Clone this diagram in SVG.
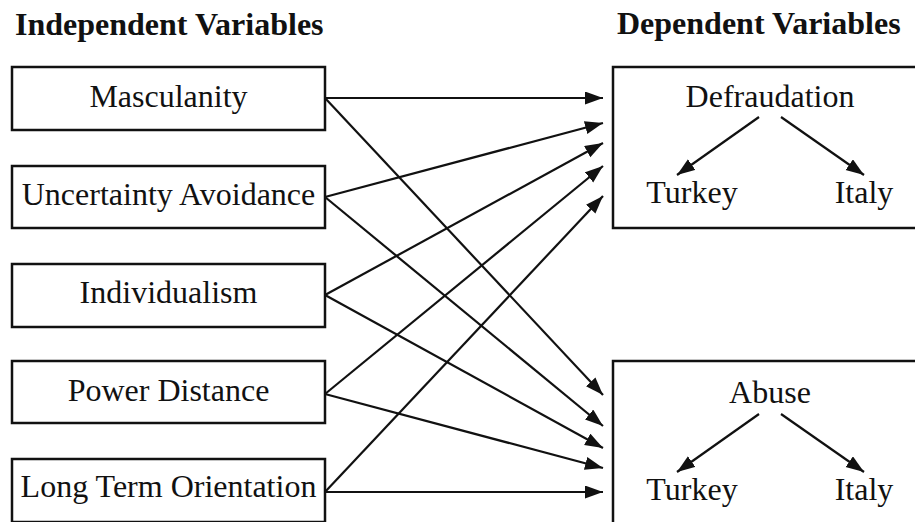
<svg xmlns="http://www.w3.org/2000/svg" width="915" height="522" viewBox="0 0 915 522">
<defs>
<style>
.box{fill:#fff;stroke:#111;stroke-width:2.5}
.t{font-family:"Liberation Serif","Times New Roman",serif;font-size:32px;fill:#111;text-anchor:middle}
.h{font-family:"Liberation Serif","Times New Roman",serif;font-size:32px;font-weight:bold;fill:#111}
.c{stroke:#111;stroke-width:2.2;fill:none;marker-end:url(#ah)}
</style>
<marker id="ah" markerUnits="userSpaceOnUse" markerWidth="18" markerHeight="14" refX="18" refY="6.5" orient="auto">
<path d="M0,0 L18,6.5 L0,13 z" fill="#111"/>
</marker>
</defs>
<rect width="915" height="522" fill="#fff"/>
<text class="h" x="15" y="35">Independent Variables</text>
<text class="h" x="617" y="34">Dependent Variables</text>
<g id="masculanity"><rect class="box" x="12" y="67" width="313" height="63"/><text class="t" x="168.5" y="107">Masculanity</text></g>
<g id="uncertainty"><rect class="box" x="12" y="166" width="313" height="62"/><text class="t" x="168.5" y="205">Uncertainty Avoidance</text></g>
<g id="individualism"><rect class="box" x="12" y="264" width="313" height="63"/><text class="t" x="168.5" y="303">Individualism</text></g>
<g id="power"><rect class="box" x="12" y="361" width="313" height="62"/><text class="t" x="168.5" y="401">Power Distance</text></g>
<g id="longterm"><rect class="box" x="12" y="459" width="313" height="63"/><text class="t" x="168.5" y="497">Long Term Orientation</text></g>
<g id="defraudation"><rect class="box" x="613" y="67" width="320" height="161"/>
<text class="t" x="770" y="107">Defraudation</text>
<text class="t" x="692" y="203">Turkey</text>
<text class="t" x="864" y="203">Italy</text>
<line class="c" x1="759" y1="117" x2="677" y2="175"/>
<line class="c" x1="781" y1="117" x2="864" y2="175"/>
</g>
<g id="abuse"><rect class="box" x="613" y="361" width="320" height="170"/>
<text class="t" x="770" y="403">Abuse</text>
<text class="t" x="692" y="500">Turkey</text>
<text class="t" x="864" y="500">Italy</text>
<line class="c" x1="759" y1="414" x2="677" y2="472"/>
<line class="c" x1="781" y1="414" x2="864" y2="472"/>
</g>
<g id="connectors">
<line class="c" x1="325" y1="98" x2="603" y2="98"/>
<line class="c" x1="325" y1="98" x2="603" y2="395"/>
<line class="c" x1="325" y1="197" x2="603" y2="123"/>
<line class="c" x1="325" y1="197" x2="603" y2="426"/>
<line class="c" x1="325" y1="295" x2="603" y2="143"/>
<line class="c" x1="325" y1="295" x2="603" y2="448"/>
<line class="c" x1="325" y1="394" x2="603" y2="166"/>
<line class="c" x1="325" y1="394" x2="603" y2="468"/>
<line class="c" x1="325" y1="492" x2="603" y2="196"/>
<line class="c" x1="325" y1="492" x2="603" y2="492"/>
</g>
</svg>
